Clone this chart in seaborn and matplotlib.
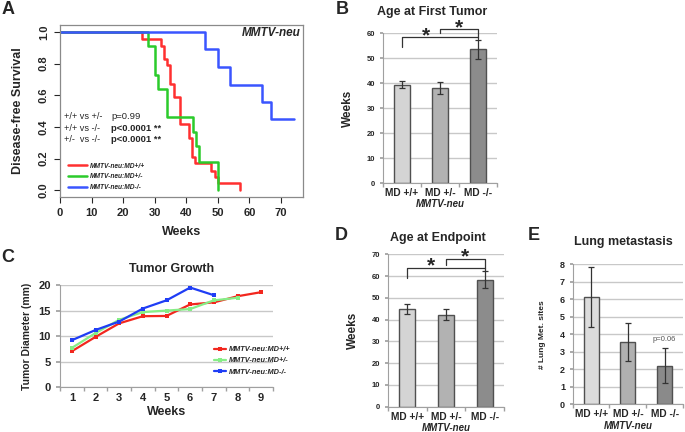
import numpy as np
import pandas as pd
import seaborn as sns
import matplotlib.pyplot as plt

# ---------------- data ----------------
groups = ["MMTV-neu:MD+/+", "MMTV-neu:MD+/-", "MMTV-neu:MD-/-"]
genotypes = ["MD +/+", "MD +/-", "MD -/-"]

# A - disease-free survival (Kaplan-Meier steps)
km_red_weeks = [0, 26, 32, 33, 34, 35, 36, 38, 41, 41.8, 42.7, 48, 49, 50, 57]
km_red_surv = [1.0, 0.955, 0.91, 0.83, 0.79, 0.67, 0.59, 0.42, 0.33, 0.21, 0.17, 0.125, 0.085, 0.045, 0.0]
km_green_weeks = [0, 28, 30, 31, 34, 42, 43, 44, 50]
km_green_surv = [1.0, 0.91, 0.73, 0.64, 0.46, 0.37, 0.28, 0.18, 0.0]
km_blue_weeks = [0, 46, 50, 54, 64, 67, 74]
km_blue_surv = [1.0, 0.89, 0.78, 0.665, 0.56, 0.45, 0.45]

# B - age at first tumor
first_tumor_mean = [39.4, 37.9, 53.6]
first_tumor_err = [1.3, 2.4, 3.9]

# C - tumor growth
growth_weeks = [1, 2, 3, 4, 5, 6, 7, 8, 9]
growth_wt = [7.05, 9.85, 12.5, 13.9, 13.95, 16.2, 16.6, 17.8, 18.6]
growth_het = [7.7, 10.6, 13.2, 14.7, 15.0, 15.3, 17.0, 17.5]
growth_ko = [9.2, 11.2, 12.85, 15.4, 17.0, 19.5, 18.0]

# D - age at endpoint
endpoint_mean = [45.1, 42.2, 58.3]
endpoint_err = [2.3, 2.5, 4.0]

# E - lung metastasis
lung_mean = [6.13, 3.54, 2.21]
lung_err = [1.7, 1.08, 1.02]

km_colors = ["#FF3030", "#2BCB2B", "#3A55FF"]
growth_colors = ["#F2271E", "#86EE86", "#1F3DF5"]
bar_colors = ["#D4D4D4", "#B2B2B2", "#8C8C8C"]

# ---------------- style ----------------
sns.set_theme(style="white")
plt.rcParams["font.family"] = ["Liberation Sans", "DejaVu Sans"]
plt.rcParams["font.weight"] = "bold"
plt.rcParams["axes.labelweight"] = "bold"

W, H = 685, 432
fig = plt.figure(figsize=(W / 100, H / 100), dpi=100)


def box(l, t, r, b):
    return [l / W, 1 - b / H, (r - l) / W, (b - t) / H]


def ftext(x, y, s, **kw):
    fig.text(x / W, 1 - y / H, s, ha="center", va="center", **kw)


leg_font = {"size": 4.8, "style": "italic", "weight": "bold"}

# ---------------- A: survival ----------------
axA = fig.add_axes(box(60, 25, 303, 197))
km = pd.concat([
    pd.DataFrame({"week": km_red_weeks, "surv": km_red_surv, "group": groups[0]}),
    pd.DataFrame({"week": km_green_weeks, "surv": km_green_surv, "group": groups[1]}),
    pd.DataFrame({"week": km_blue_weeks, "surv": km_blue_surv, "group": groups[2]}),
])
sns.lineplot(data=km, x="week", y="surv", hue="group", hue_order=groups,
             palette=km_colors, drawstyle="steps-post", estimator=None,
             linewidth=1.8, legend=False, ax=axA)
axA.set_xlim(0, 77)
axA.set_ylim(-0.042, 1.044)
axA.set_xticks(range(0, 71, 10))
axA.set_yticks(np.arange(0, 1.01, 0.2))
axA.set_yticklabels([f"{v:.1f}" for v in np.arange(0, 1.01, 0.2)], rotation=90, va="center")
axA.tick_params(direction="out", length=4, width=0.8, labelsize=8, pad=4, left=True, bottom=True)
for s in axA.spines.values():
    s.set_color("#8A8A8A")
    s.set_linewidth(0.9)
axA.set_xlabel("Weeks", fontsize=9, labelpad=6)
axA.set_ylabel("Disease-free Survival", fontsize=9, labelpad=11)
axA.text(0.988, 0.955, "MMTV-neu", transform=axA.transAxes, ha="right", va="center",
         fontsize=8.5, style="italic", weight="bold")
stats = [("+/+ vs +/-", "p=0.99", "normal", 0.465),
         ("+/+ vs -/-", "p<0.0001 **", "bold", 0.39),
         ("+/-  vs -/-", "p<0.0001 **", "bold", 0.318)]
for comp, p, w, yv in stats:
    axA.text(1.2, yv, comp, fontsize=6.6, weight="normal", va="center")
    axA.text(16.3, yv, p, fontsize=6.8, weight=w, va="center")
axA.legend(axA.lines[:3], groups, loc="lower left", bbox_to_anchor=(0.01, 0.0),
           frameon=False, prop=leg_font, handlelength=2.8, handletextpad=0.4,
           labelspacing=0.55)


# ---------------- bar panels ----------------
def bar_panel(ax, means, errs, colors, ymax, ystep, tick_size, ylabel, ylabel_size, ypad):
    sns.barplot(x=genotypes, y=means, hue=genotypes, palette=colors, legend=False,
                width=0.41, edgecolor="#505050", linewidth=1.0, errorbar=None, ax=ax)
    ax.errorbar(np.arange(len(means)), means, yerr=errs, fmt="none", ecolor="#333333",
                elinewidth=0.9, capsize=2.5, capthick=0.9)
    ax.set_xlim(-0.5, len(means) - 0.5)
    ax.set_ylim(0, ymax)
    ax.set_yticks(np.arange(0, ymax + 0.01, ystep))
    ax.yaxis.grid(True, color="#C8C8C8", linewidth=1.0)
    ax.set_axisbelow(True)
    sns.despine(ax=ax)
    for s in ("left", "bottom"):
        ax.spines[s].set_color("#A0A0A0")
        ax.spines[s].set_linewidth(0.8)
    ax.set_xticks(np.arange(-0.5, len(means), 1.0), minor=True)
    ax.tick_params(axis="x", which="major", length=0, labelsize=7.3, pad=3.5)
    ax.tick_params(axis="x", which="minor", length=3, color="#A0A0A0", direction="out", bottom=True)
    ax.tick_params(axis="y", length=2.5, color="#A0A0A0", direction="out", labelsize=tick_size, left=True, pad=3)
    ax.set_xlabel("MMTV-neu", fontsize=7, style="italic", labelpad=1)
    ax.set_ylabel(ylabel, fontsize=ylabel_size, labelpad=ypad)


def bracket(ax, x0, x1, y, leg0, leg1, star_x, star_y):
    ax.plot([x0, x0, x1, x1], [leg0, y, y, leg1], color="#333333", lw=0.9, clip_on=False)
    ax.text(star_x, star_y, "*", fontsize=15, weight="bold", ha="center", va="center", clip_on=False)


axB = fig.add_axes(box(383, 33.3, 497, 183))
bar_panel(axB, first_tumor_mean, first_tumor_err, bar_colors, 60, 10, 5.5, "Weeks", 8.5, 9)
bracket(axB, 0, 2, 58.6, 54.6, 57.6, 0.63, 58.9)
bracket(axB, 1, 2, 61.6, 60.0, 58.6, 1.49, 62.2)

axD = fig.add_axes(box(388, 254.3, 504, 406.7))
bar_panel(axD, endpoint_mean, endpoint_err, bar_colors, 70, 10, 5.5, "Weeks", 8.5, 9)
bracket(axD, 0, 2, 63.5, 59.2, 62.3, 0.62, 64.5)
bracket(axD, 1, 2, 67.7, 64.9, 63.5, 1.5, 69.0)

axE = fig.add_axes(box(572.7, 264, 683, 404.3))
bar_panel(axE, lung_mean, lung_err, ["#DCDCDC", "#B0B0B0", "#8A8A8A"], 8, 1, 6.5,
          "# Lung Met. sites", 6, 10)
axE.text(2, 3.72, "p=0.06", fontsize=5.5, weight="normal", color="#555555", ha="center", va="center")

# ---------------- C: tumor growth ----------------
axC = fig.add_axes(box(60, 285, 273, 387.3))
growth = pd.concat([
    pd.DataFrame({"week": growth_weeks[:len(growth_wt)], "diam": growth_wt, "group": groups[0]}),
    pd.DataFrame({"week": growth_weeks[:len(growth_het)], "diam": growth_het, "group": groups[1]}),
    pd.DataFrame({"week": growth_weeks[:len(growth_ko)], "diam": growth_ko, "group": groups[2]}),
])
sns.lineplot(data=growth, x="week", y="diam", hue="group", hue_order=groups,
             palette=growth_colors, marker="s", markersize=3.5, markeredgewidth=0,
             linewidth=1.6, legend=False, ax=axC)
axC.set_xlim(0.5, 9.5)
axC.set_ylim(0, 20)
axC.set_xticks(growth_weeks)
axC.set_yticks([0, 5, 10, 15, 20])
axC.set_xticks(np.arange(0.5, 9.6, 1.0), minor=True)
axC.yaxis.grid(True, color="#C8C8C8", linewidth=1.0)
axC.set_axisbelow(True)
sns.despine(ax=axC)
for s in ("left", "bottom"):
    axC.spines[s].set_color("#A0A0A0")
    axC.spines[s].set_linewidth(0.8)
axC.tick_params(axis="x", which="major", length=0, labelsize=8, pad=4)
axC.tick_params(axis="x", which="minor", length=3, color="#A0A0A0", direction="out", bottom=True)
axC.tick_params(axis="y", length=3, color="#A0A0A0", direction="out", labelsize=8, left=True)
axC.set_xlabel("Weeks", fontsize=9, labelpad=2)
axC.set_ylabel("Tumor Diameter (mm)", fontsize=7.5, labelpad=5)
axC.legend(axC.lines[:3], groups, loc="lower left", bbox_to_anchor=(0.69, 0.05),
           frameon=False, prop={"size": 5.3, "style": "italic", "weight": "bold"},
           handlelength=1.7, handletextpad=0.4, labelspacing=0.55)

# ---------------- titles and panel letters ----------------
ftext(432.5, 12, "Age at First Tumor", fontsize=9, weight="bold")
ftext(172, 269, "Tumor Growth", fontsize=9, weight="bold")
ftext(437.5, 238, "Age at Endpoint", fontsize=9, weight="bold")
ftext(623, 242, "Lung metastasis", fontsize=9, weight="bold")
for letter, x, y in [("A", 8, 9), ("B", 342, 9), ("C", 8, 258), ("D", 341, 236), ("E", 534, 236)]:
    ftext(x, y, letter, fontsize=13, weight="bold")

fig.savefig("out.png", dpi=100)
